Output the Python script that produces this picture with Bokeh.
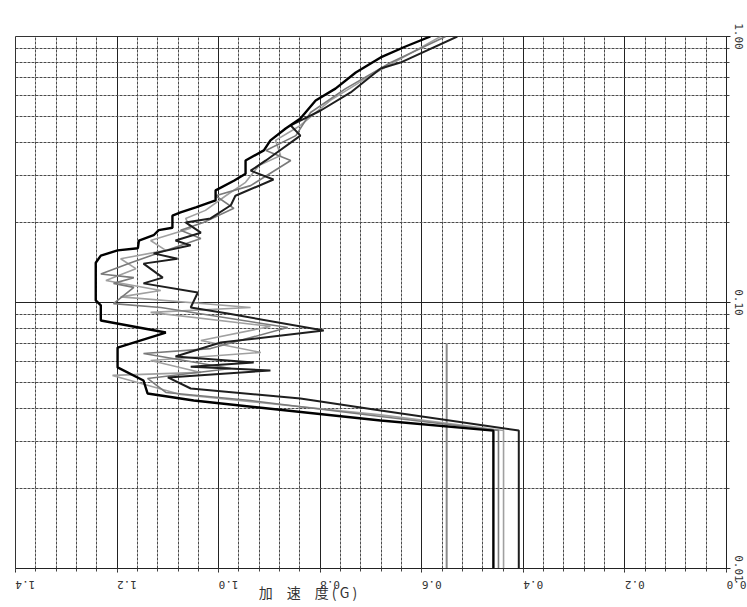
import math
from bokeh.plotting import figure
from bokeh.models import Range1d, FixedTicker, PrintfTickFormatter
from bokeh.embed import file_html
from bokeh.resources import INLINE

# ---- data: period (s) and acceleration (G) ----
s1_period = [0.010, 0.0330, 0.0360, 0.0428, 0.0455, 0.0509, 0.0570, 0.0677, 0.0771, 0.0856,
             0.0975, 0.1018, 0.141, 0.150, 0.157, 0.160, 0.171, 0.179, 0.187, 0.191,
             0.212, 0.218, 0.228, 0.242, 0.264, 0.287, 0.305, 0.342, 0.373, 0.407,
             0.451, 0.492, 0.575, 0.637, 0.732, 0.834, 0.917, 1.0]
s1_acc = [0.459, 0.459, 0.681, 1.049, 1.140, 1.148, 1.199, 1.199, 1.104, 1.232,
          1.232, 1.242, 1.242, 1.232, 1.199, 1.159, 1.157, 1.128, 1.118, 1.091,
          1.091, 1.075, 1.045, 1.006, 1.006, 0.970, 0.947, 0.947, 0.911, 0.898,
          0.868, 0.839, 0.809, 0.770, 0.730, 0.681, 0.632, 0.583]

s2_period = [0.010, 0.033, 0.0393, 0.0436, 0.0475, 0.0523, 0.0555, 0.0574, 0.0595, 0.0627,
             0.0707, 0.0785, 0.0909, 0.0958, 0.109, 0.118, 0.124, 0.140, 0.146, 0.153,
             0.164, 0.171, 0.183, 0.200, 0.207, 0.232, 0.252, 0.290, 0.313, 0.342,
             0.424, 0.463, 0.527, 0.616, 0.758, 0.798, 1.0]
s2_acc = [0.409, 0.409, 0.681, 0.839, 1.055, 1.100, 0.898, 1.055, 0.931, 1.085,
          0.996, 0.793, 0.982, 1.055, 1.041, 1.148, 1.110, 1.148, 1.081, 1.128,
          1.055, 1.085, 1.035, 1.065, 1.016, 0.976, 0.967, 0.892, 0.937, 0.907,
          0.839, 0.858, 0.799, 0.740, 0.681, 0.642, 0.530]

s3_period = [0.010, 0.033, 0.0373, 0.0428, 0.0459, 0.0518, 0.0565, 0.0643, 0.0671, 0.0805,
             0.0958, 0.099, 0.114, 0.118, 0.124, 0.128, 0.141, 0.150, 0.174, 0.187,
             0.200, 0.226, 0.252, 0.275, 0.342, 0.373, 0.424, 0.518, 0.637, 0.798, 1.0]
s3_acc = [0.449, 0.449, 0.681, 0.937, 1.104, 1.140, 0.976, 1.148, 1.016, 0.864,
          1.114, 1.207, 1.167, 1.207, 1.167, 1.232, 1.173, 1.134, 1.035, 1.075,
          1.030, 0.970, 1.006, 0.937, 0.858, 0.907, 0.848, 0.819, 0.750, 0.661, 0.553]

s4_period = [0.010, 0.033, 0.0378, 0.0451, 0.0532, 0.0546, 0.0605, 0.0649, 0.0720, 0.0813,
             0.0918, 0.0958, 0.105, 0.111, 0.121, 0.134, 0.146, 0.157, 0.171, 0.190,
             0.207, 0.222, 0.252, 0.283, 0.327, 0.357, 0.407, 0.463, 0.575, 0.713, 1.0]
s4_acc = [0.439, 0.439, 0.681, 1.075, 1.209, 1.035, 1.134, 0.917, 1.035, 0.898,
          1.134, 0.937, 1.193, 1.114, 1.222, 1.163, 1.193, 1.104, 1.134, 1.055,
          1.065, 1.026, 0.986, 0.947, 0.921, 0.878, 0.888, 0.839, 0.780, 0.701, 0.563]

ref_period = [0.010, 0.070]
ref_acc = [0.551, 0.551]

acc_ticks = [0.0, 0.2, 0.4, 0.6, 0.8, 1.0, 1.2, 1.4]
acc_minor = [round(0.04 * k, 2) for k in range(36)]
period_ticks = [0.01, 0.1, 1.0]
period_minor = [0.02, 0.03, 0.04, 0.05, 0.06, 0.07, 0.08, 0.09,
                0.2, 0.3, 0.4, 0.5, 0.6, 0.7, 0.8, 0.9]

axis_title = "加　速　度 ( G )"
title_pad = "\u3000" * 9   # shifts the centred title left, as in the original

# ---- figure ----
p = figure(width=747, height=607, x_range=Range1d(1.4, 0.0), y_range=Range1d(0.01, 1.0),
           y_axis_type="log", y_axis_location="right",
           output_backend="svg", toolbar_location=None,
           min_border_left=15, min_border_top=36, min_border_bottom=39, min_border_right=21)
p.background_fill_color = "white"
p.border_fill_color = "white"
p.outline_line_color = "#333333"
p.outline_line_width = 1

xt = FixedTicker(ticks=acc_ticks, minor_ticks=acc_minor)
yt = FixedTicker(ticks=period_ticks, minor_ticks=period_minor)

p.xaxis.ticker = xt
p.xaxis.formatter = PrintfTickFormatter(format="%.1f")
p.xaxis.major_label_orientation = math.pi
p.yaxis.ticker = yt
p.yaxis.formatter = PrintfTickFormatter(format="%.2f")
p.yaxis.major_label_orientation = "vertical"

for ax in (p.xaxis, p.yaxis):
    ax.major_label_text_font = "DejaVu Sans Mono"
    ax.major_label_text_font_size = "11px"
    ax.major_label_text_color = "#333333"
    ax.axis_line_color = "#222222"
    ax.major_tick_line_color = "#222222"
    ax.minor_tick_line_color = "#444444"
    ax.major_tick_in = 0
    ax.major_tick_out = 4
    ax.minor_tick_in = 0
    ax.minor_tick_out = 3
p.xaxis.major_label_standoff = 12
p.yaxis.major_label_standoff = 4

p.xaxis.axis_label = axis_title + title_pad
p.xaxis.axis_label_standoff = -14
p.xaxis.axis_label_text_font = "Noto Sans CJK JP"
p.xaxis.axis_label_text_font_size = "14px"
p.xaxis.axis_label_text_font_style = "normal"
p.xaxis.axis_label_text_color = "#333333"

for g, t in ((p.xgrid, xt), (p.ygrid, yt)):
    g.ticker = t
    g.grid_line_color = "#222222"
    g.grid_line_width = 1
    g.minor_grid_line_color = "#4a4a4a"
    g.minor_grid_line_dash = "3 1"
    g.minor_grid_line_width = 1

p.line(ref_acc, ref_period, line_color="#8a8a8a", line_width=2)
p.line(s4_acc, s4_period, line_color="#a0a0a0", line_width=1.6)
p.line(s3_acc, s3_period, line_color="#7a7a7a", line_width=1.6)
p.line(s2_acc, s2_period, line_color="#1e1e1e", line_width=2)
p.line(s1_acc, s1_period, line_color="#000000", line_width=2.4)

open("out.html", "w").write(file_html(p, INLINE))
